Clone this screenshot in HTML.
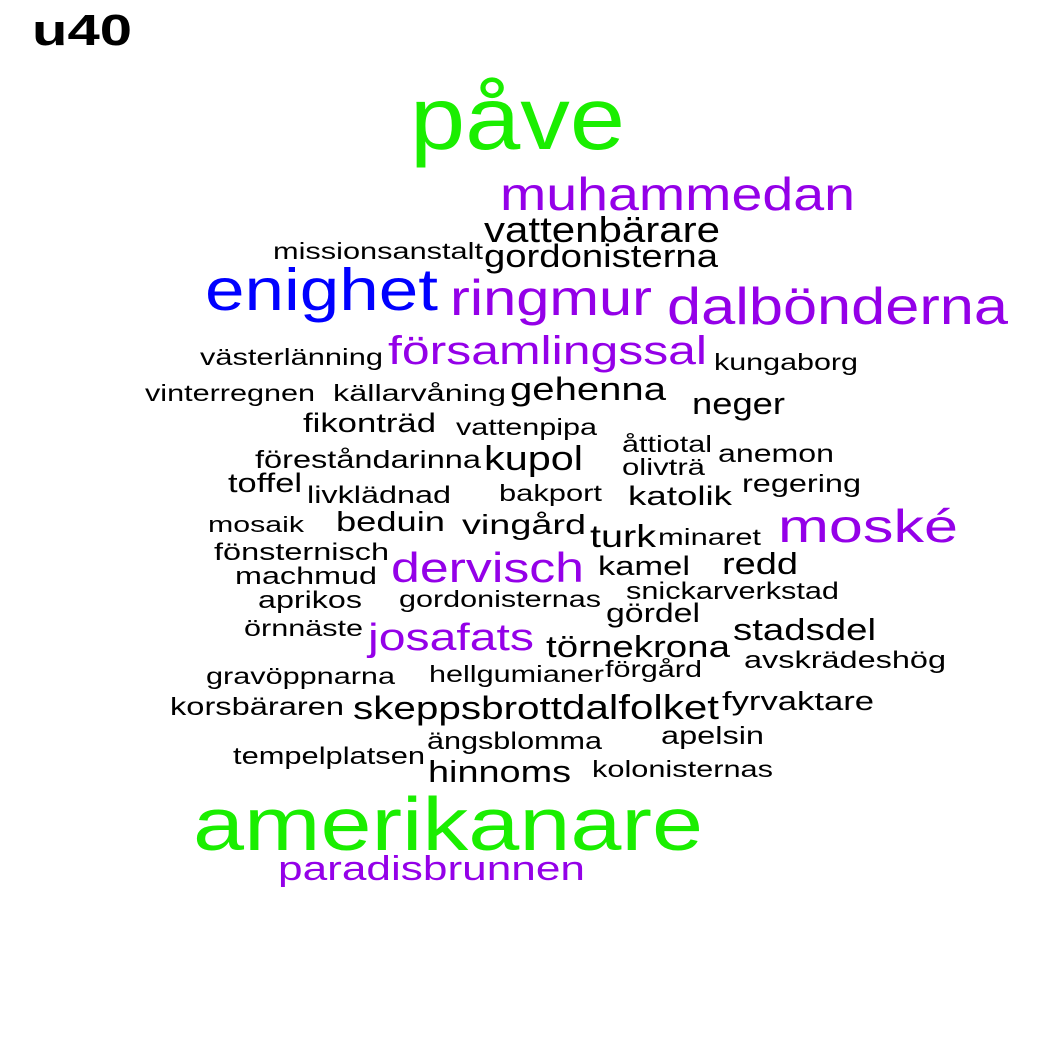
<!DOCTYPE html>
<html><head><meta charset="utf-8"><style>
html,body{margin:0;padding:0;background:#fff}
svg{display:block}
text{font-family:"Liberation Sans",Arial,sans-serif}
</style></head><body>
<svg id="cloud" width="1050" height="1050" viewBox="0 0 1050 1050" xmlns="http://www.w3.org/2000/svg">
<rect width="1050" height="1050" fill="#fff"/>
<text x="32" y="45" font-size="44" font-weight="bold" textLength="100" lengthAdjust="spacingAndGlyphs">u40</text>
</svg>
<script>
const words=["påve","muhammedan","vattenbärare","missionsanstalt","gordonisterna","enighet","ringmur","dalbönderna","västerlänning","församlingssal","kungaborg","vinterregnen","källarvåning","gehenna","neger","fikonträd","vattenpipa","åttiotal","föreståndarinna","kupol","anemon","olivträ","toffel","livklädnad","bakport","katolik","regering","mosaik","beduin","vingård","turk","minaret","moské","fönsternisch","dervisch","kamel","redd","machmud","snickarverkstad","aprikos","gordonisternas","gördel","örnnäste","josafats","törnekrona","stadsdel","förgård","avskrädeshög","gravöppnarna","hellgumianer","korsbäraren","skeppsbrott","dalfolket","fyrvaktare","apelsin","ängsblomma","tempelplatsen","hinnoms","kolonisternas","amerikanare","paradisbrunnen"];
const colorGroup=["g","p","k","k","k","b","p","p","k","p","k","k","k","k","k","k","k","k","k","k","k","k","k","k","k","k","k","k","k","k","k","k","p","k","p","k","k","k","k","k","k","k","k","p","k","k","k","k","k","k","k","k","k","k","k","k","k","k","k","g","p"];
const sizes=[99,52,40,26,36,66,56,58,26,44,26,26,26,36,34,30,26,26,28,38,28,26,30,27,26,30,28,25,31,31,35,26,52,27,46,30,34,27,27,27,26,30,26,42,34,34,26,27,26,26,28,36,38,29,28,27,27,34,26,84,38];
const lefts=[410,500,484,273,484,205,450,667,200,388,714,145,333,510,692,303,456,622,255,484,718,622,228,307,499,628,742,208,336,462,590,658,778,214,391,598,722,235,626,258,399,606,244,368,546,733,605,744,206,429,170,353,562,722,661,427,233,428,592,193,278];
const rights=[625,855,720,483,718,438,652,1008,383,707,858,315,506,666,785,436,597,712,481,583,834,705,302,451,602,732,861,304,445,586,656,761,958,389,584,690,798,377,839,362,601,700,363,534,730,876,702,946,395,604,344,562,719,874,764,602,425,571,773,703,585];
const baselines=[147,208,240,257,265,308,313,322,363,362,368,399,399,398,412,430,433,450,466,468,460,473,490,501,499,503,490,530,529,532,545,543,540,558,580,573,572,582,597,606,605,620,634,648,655,638,675,666,682,680,713,717,717,708,742,747,762,780,775,848,878];
const palette={g:"#1aee00",p:"#9400e8",b:"#0000ff",k:"#000000"};
const svg=document.getElementById('cloud');
words.forEach((w,i)=>{
  const t=document.createElementNS('http://www.w3.org/2000/svg','text');
  
  
  t.setAttribute('x',lefts[i]);
  t.setAttribute('y',baselines[i]+2);
  t.setAttribute('font-size',sizes[i]*0.9);
  t.setAttribute('fill',palette[colorGroup[i]]);
  t.setAttribute('textLength',rights[i]-lefts[i]);
  t.setAttribute('lengthAdjust','spacingAndGlyphs');
  t.textContent=w;
  svg.appendChild(t);
});
</script>
</body></html>
